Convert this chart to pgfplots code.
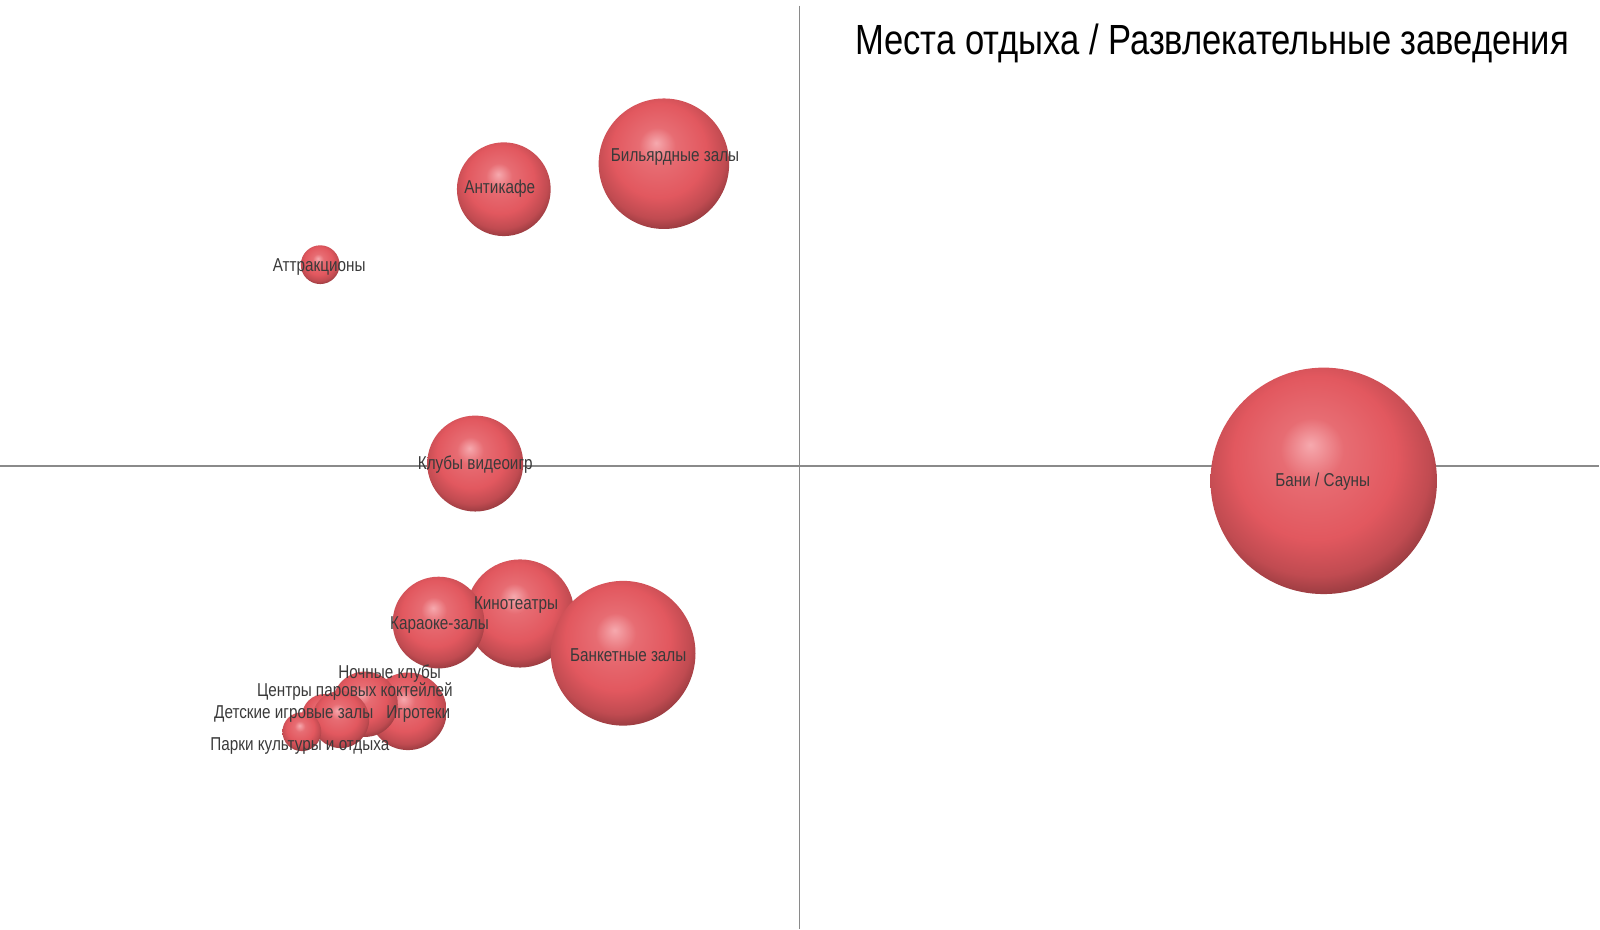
\documentclass[border=0pt]{standalone}
\usepackage{pgfplots}
\pgfplotsset{compat=1.18}
\usepackage{pgfplotstable}
\usepackage{fontspec}
\setmainfont{Liberation Sans}[FakeStretch=0.82]

\definecolor{bubmain}{HTML}{E2585F}
\definecolor{bubhi}{HTML}{F6A9AE}
\definecolor{labelgray}{HTML}{3A3A3A}
\definecolor{quadline}{HTML}{8A8A8A}

\pgfdeclareradialshading{bubble}{\pgfpoint{-3bp}{8bp}}{%
  color(0bp)=(bubhi); color(7bp)=(bubmain!75!bubhi); color(18bp)=(bubmain);
  color(25bp)=(bubmain!85!black); color(30bp)=(bubmain!62!black);
  color(34bp)=(bubmain!45!black); color(50bp)=(bubmain!45!black)}

% x, y in picture units (1 unit = 0.01cm), r = bubble radius
\pgfplotstableread{
x      y      r
1324.5 449.4  113.3
664.3  766.7  65.3
504.1  741.2  46.9
320.4  665.7  19.4
475.5  466.7  48.0
520.4  316.7  54.1
438.8  307.6  45.9
623.5  276.9  72.4
408.2  218.8  38.8
365.3  225.9  32.7
324.5  213.7  22.4
340.8  210.6  28.6
302.0  198.4  19.4
}\bubbles

\newcommand\lbl{\fontsize{5.3}{6}\selectfont}

\begin{document}
\begin{tikzpicture}
\begin{axis}[
    hide axis,
    x=0.01cm, y=0.01cm,
    xmin=0, xmax=1600,
    ymin=0, ymax=930,
    clip=false,
]
% quadrant lines
\addplot[quadline, line width=0.5pt] coordinates {(800,925) (800,1)};
\addplot[quadline, line width=0.5pt] coordinates {(0,464) (1600,464)};

\addplot[
    scatter, only marks, mark=*,
    mark options={draw=none, fill=none}, mark size=0pt,
    visualization depends on={\thisrow{r}\as\rad},
    scatter/@pre marker code/.code={\shade[draw=none, shading=bubble] (0,0) circle[radius=0.01cm*\rad];},
    scatter/@post marker code/.code={},
] table[x=x, y=y] {\bubbles};

% labels, drawn as a plot so that they sit on top of the bubbles
\addplot[
    only marks, mark=none,
    point meta=explicit symbolic,
    nodes near coords,
    nodes near coords align=center,
    every node near coord/.style={anchor=center, font=\lbl, text=labelgray, inner sep=0pt},
] coordinates {
    (675.5,773.9) [Бильярдные залы]
    (500.0,742.2) [Антикафе]
    (319.4,663.7) [Аттракционы]
    (475.5,465.7) [Клубы видеоигр]
    (1323.5,448.4) [Бани / Сауны]
    (516.3,324.9) [Кинотеатры]
    (439.8,305.5) [Караоке-залы]
    (628.6,274.9) [Банкетные залы]
    (389.8,256.5) [Ночные клубы]
    (355.1,238.2) [Центры паровых коктейлей]
    (293.9,215.7) [Детские игровые залы]
    (418.4,215.7) [Игротеки]
    (300.0,184.1) [Парки культуры и отдыха]
};

\node[anchor=base west, inner sep=0pt, font=\fontsize{12}{14}\selectfont]
  at (axis cs:855,876) {Места отдыха / Развлекательные заведения};
\end{axis}
\pgfresetboundingbox
\path (0,0) rectangle (16cm,9.3cm);
\end{tikzpicture}
\end{document}
